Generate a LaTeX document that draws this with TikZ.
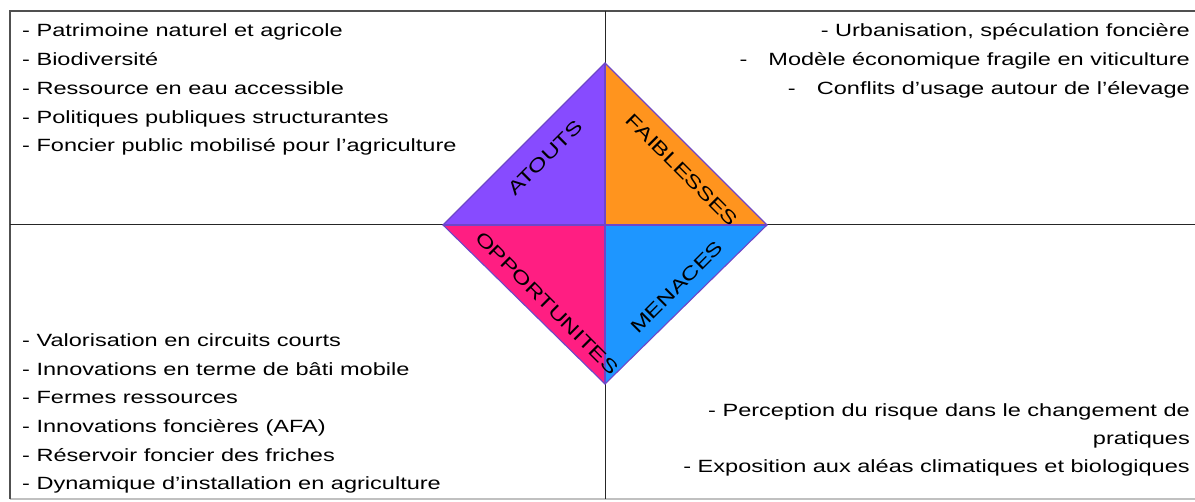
\documentclass[tikz,border=0pt]{standalone}
\usepackage{fontspec}
\setmainfont{Liberation Sans}[FakeStretch=1.33]
\begin{document}
\definecolor{atoutc}{HTML}{874BFF}
\definecolor{faiblc}{HTML}{FF941E}
\definecolor{opporc}{HTML}{FF1E82}
\definecolor{menacc}{HTML}{1E96FF}
\definecolor{edgec}{HTML}{6E46C8}
\definecolor{framec}{HTML}{505050}
\definecolor{framelc}{HTML}{C0C0C0}
\begin{tikzpicture}[x=1pt,y=-1pt,
  listL/.style={anchor=base west,inner sep=0pt,font=\fontsize{17.7}{28.7}\selectfont},
  listR/.style={anchor=base east,inner sep=0pt,font=\fontsize{17.7}{28.7}\selectfont},
  quad/.style={inner sep=0pt,font=\fontsize{18.5}{22}\selectfont},
  tri/.style={draw=edgec,line width=1.1pt,line join=miter}]
\useasboundingbox (0,0) rectangle (1195,502);
\fill[white] (0,0) rectangle (1195,502);

% frame and cross
\coordinate (tl) at (10,11);
\coordinate (tr) at (1195,11);
\coordinate (bl) at (10,499);
\coordinate (br) at (1195,499);
\coordinate (mt) at (605,11);
\coordinate (mb) at (605,499);
\coordinate (ml) at (10,225);
\coordinate (mr) at (1195,225);
\draw[framelc,line width=1.5pt] (bl) -- (br);
\draw[framec,line width=1.6pt] (bl) -- (tl) -- (tr);
\draw[black!85,line width=1pt] (mt) -- (mb);
\draw[black!85,line width=1pt] (ml) -- (mr);

% diamond
\coordinate (dT) at (605,63);
\coordinate (dL) at (443,225);
\coordinate (dR) at (767,225);
\coordinate (dB) at (605,384);
\coordinate (dC) at (605,225);
\fill[atoutc] (dL) -- (dT) -- (dC) -- cycle;
\fill[faiblc] (dT) -- (dR) -- (dC) -- cycle;
\fill[opporc] (dL) -- (dC) -- (dB) -- cycle;
\fill[menacc] (dC) -- (dR) -- (dB) -- cycle;
\draw[tri] (dT) -- (dR) -- (dB) -- (dL) -- cycle;
\draw[tri] (dT) -- (dB);
\draw[tri] (dL) -- (dR);

\node[quad,rotate=45] (atouts) at (545,158) {ATOUTS};
\node[quad,rotate=-45] (faibl) at (682,170) {FAIBLESSES};
\node[quad,rotate=-45] (oppor) at (547,303) {OPPORTUNITES};
\node[quad,rotate=45] (menac) at (677,287) {MENACES};

% strengths
\node[listL] (a1) at (22,37) {- Patrimoine naturel et agricole};
\node[listL] (a2) at (22,65.7) {- Biodiversité};
\node[listL] (a3) at (22,94.4) {- Ressource en eau accessible};
\node[listL] (a4) at (22,123.1) {- Politiques publiques structurantes};
\node[listL] (a5) at (22,151.8) {- Foncier public mobilisé pour l’agriculture};

% weaknesses
\node[listR] (f1) at (1190,37) {- Urbanisation, spéculation foncière};
\node[listR] (f2) at (1190,65.7) {-\hspace{21pt}Modèle économique fragile en viticulture};
\node[listR] (f3) at (1190,94.4) {-\hspace{21pt}Conflits d’usage autour de l’élevage};

% opportunities
\node[listL] (o1) at (22,346.5) {- Valorisation en circuits courts};
\node[listL] (o2) at (22,375.2) {- Innovations en terme de bâti mobile};
\node[listL] (o3) at (22,403.9) {- Fermes ressources};
\node[listL] (o4) at (22,432.6) {- Innovations foncières (AFA)};
\node[listL] (o5) at (22,461.3) {- Réservoir foncier des friches};
\node[listL] (o6) at (22,490) {- Dynamique d’installation en agriculture};

% threats
\node[listR] (m1) at (1190,416.5) {- Perception du risque dans le changement de};
\node[listR] (m2) at (1190,445) {pratiques};
\node[listR] (m3) at (1190,473) {- Exposition aux aléas climatiques et biologiques};
\end{tikzpicture}
\end{document}
